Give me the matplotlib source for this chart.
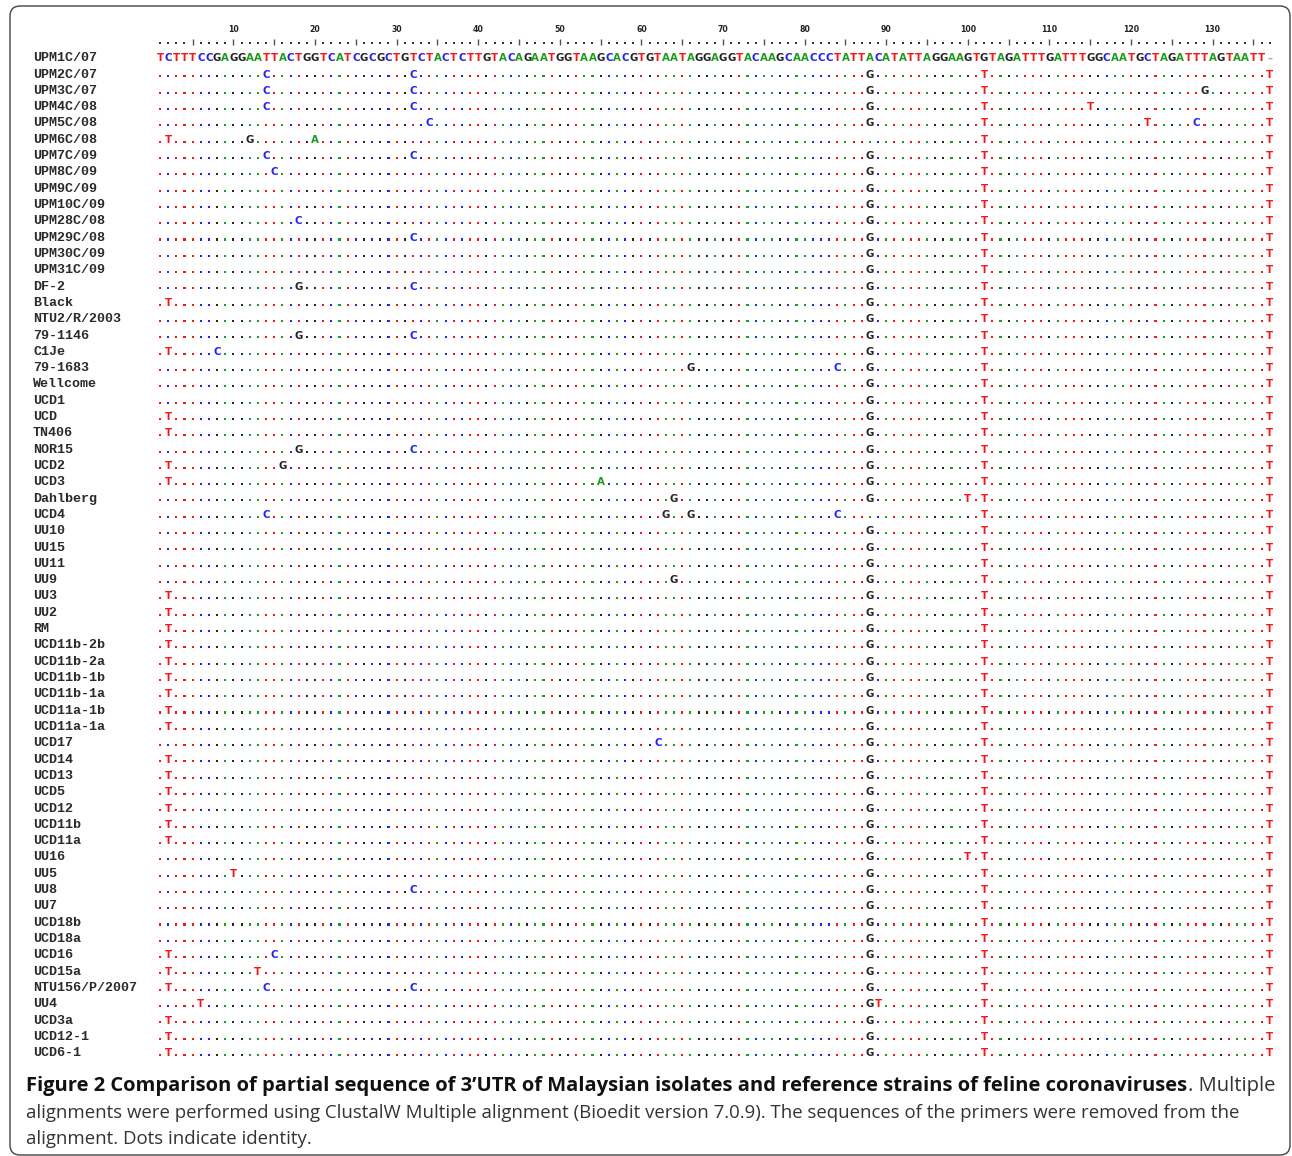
import matplotlib
matplotlib.use("Agg")
import matplotlib.pyplot as plt
from matplotlib.patches import FancyBboxPatch
from matplotlib.transforms import IdentityTransform

# ---------------- data ----------------
reference_seq = ("TCTTTCCGAGGAATTACTGGTCATCGCGCTGTCTACTCTTGTACAGAATGGTAAGCACGTGTAATAGGAG"
                 "GTACAAGCAACCCTATTACATATTAGGAAGTGTAGATTTGATTTGGCAATGCTAGATTTAGTAATT-")

strain_names = [
    "UPM1C/07", "UPM2C/07", "UPM3C/07", "UPM4C/08", "UPM5C/08", "UPM6C/08",
    "UPM7C/09", "UPM8C/09", "UPM9C/09", "UPM10C/09", "UPM28C/08", "UPM29C/08",
    "UPM30C/09", "UPM31C/09", "DF-2", "Black", "NTU2/R/2003", "79-1146", "C1Je",
    "79-1683", "Wellcome", "UCD1", "UCD", "TN406", "NOR15", "UCD2", "UCD3",
    "Dahlberg", "UCD4", "UU10", "UU15", "UU11", "UU9", "UU3", "UU2", "RM",
    "UCD11b-2b", "UCD11b-2a", "UCD11b-1b", "UCD11b-1a", "UCD11a-1b", "UCD11a-1a",
    "UCD17", "UCD14", "UCD13", "UCD5", "UCD12", "UCD11b", "UCD11a", "UU16",
    "UU5", "UU8", "UU7", "UCD18b", "UCD18a", "UCD16", "UCD15a", "NTU156/P/2007",
    "UU4", "UCD3a", "UCD12-1", "UCD6-1",
]

# differences from the reference (position + base); "" = reference row
strain_variants = [
    "",
    "14C 32C 88G 102T 137T",
    "14C 32C 88G 102T 129G 137T",
    "14C 32C 88G 102T 115T 137T",
    "34C 88G 102T 122T 128C 137T",
    "2T 12G 20A 102T 137T",
    "14C 32C 88G 102T 137T",
    "15C 88G 102T 137T",
    "88G 102T 137T",
    "88G 102T 137T",
    "18C 88G 102T 137T",
    "32C 88G 102T 137T",
    "88G 102T 137T",
    "88G 102T 137T",
    "18G 32C 88G 102T 137T",
    "2T 88G 102T 137T",
    "88G 102T 137T",
    "18G 32C 88G 102T 137T",
    "2T 8C 88G 102T 137T",
    "66G 84C 88G 102T 137T",
    "88G 102T 137T",
    "88G 102T 137T",
    "2T 88G 102T 137T",
    "2T 88G 102T 137T",
    "18G 32C 88G 102T 137T",
    "2T 16G 88G 102T 137T",
    "2T 55A 88G 102T 137T",
    "64G 88G 100T 102T 137T",
    "14C 63G 66G 84C 102T 137T",
    "88G 102T 137T",
    "88G 102T 137T",
    "88G 102T 137T",
    "64G 88G 102T 137T",
    "2T 88G 102T 137T",
    "2T 88G 102T 137T",
    "2T 88G 102T 137T",
    "2T 88G 102T 137T",
    "2T 88G 102T 137T",
    "2T 88G 102T 137T",
    "2T 88G 102T 137T",
    "2T 88G 102T 137T",
    "2T 88G 102T 137T",
    "62C 88G 102T 137T",
    "2T 88G 102T 137T",
    "2T 88G 102T 137T",
    "2T 88G 102T 137T",
    "2T 88G 102T 137T",
    "2T 88G 102T 137T",
    "2T 88G 102T 137T",
    "88G 100T 102T 137T",
    "10T 88G 102T 137T",
    "32C 88G 102T 137T",
    "88G 102T 137T",
    "88G 102T 137T",
    "88G 102T 137T",
    "2T 15C 88G 102T 137T",
    "2T 13T 88G 102T 137T",
    "2T 14C 32C 88G 102T 137T",
    "6T 88G 89T 102T 137T",
    "2T 88G 102T 137T",
    "2T 88G 102T 137T",
    "2T 88G 102T 137T",
]

ruler_ticks = list(range(10, 131, 10))

caption_bold = ("Figure 2 Comparison of partial sequence of 3\u2019UTR of Malaysian isolates "
                "and reference strains of feline coronaviruses")
caption_line1_rest = ". Multiple"
caption_line2 = ("alignments were performed using ClustalW Multiple alignment (Bioedit version "
                 "7.0.9). The sequences of the primers were removed from the")
caption_line3 = "alignment. Dots indicate identity."

base_colors = {"A": "#1e9a1e", "C": "#2424f0", "G": "#262626", "T": "#f01818", "-": "#aaaaaa"}

# ---------------- figure ----------------
W, H, DPI = 1292, 1156, 100
fig = plt.figure(figsize=(W / DPI, H / DPI), dpi=DPI)
fig.patch.set_facecolor("white")

X1_PX, STEP = 160.0, 8.16      # pixel of position 1, pixels per column
Y0_PX, ROW = 57.0, 16.31       # pixel of first row, pixels per row
axl, axr, axt, axb = 20, 1285, 12, 1068
ax = fig.add_axes([axl / W, 1 - axb / H, (axr - axl) / W, (axb - axt) / H])
ax.set_xlim(1 + (axl - X1_PX) / STEP, 1 + (axr - X1_PX) / STEP)
ax.set_ylim((axb - Y0_PX) / ROW, (axt - Y0_PX) / ROW)
ax.axis("off")

n_pos = len(reference_seq)
label_x = 1 + (33 - X1_PX) / STEP
SEQ_FS = 7.4
BASE_OFF = 0.26   # baseline offset (rows)
DOT_OFF = 0.19

# ruler
ruler_y = (43 - Y0_PX) / ROW
rx_dots = [p for p in range(1, n_pos + 1) if p % 5 != 0]
ax.scatter(rx_dots, [ruler_y] * len(rx_dots), s=2.0, marker="s", c="#333333",
           linewidths=0, clip_on=False)
rx_ticks = [p for p in range(1, n_pos + 1) if p % 5 == 0]
ax.vlines(rx_ticks, ruler_y - 0.22, ruler_y + 0.12, colors="#555533", linewidth=1.0)
for t in ruler_ticks:
    ax.text(t, (30 - Y0_PX) / ROW, str(t), ha="center", va="center", fontsize=5.6,
            color="#222222", family="DejaVu Sans", fontweight="bold")

# rows
for r, (name, var) in enumerate(zip(strain_names, strain_variants)):
    ax.text(label_x, r + BASE_OFF, name, ha="left", va="baseline", fontsize=9.6,
            family="Liberation Mono", fontweight="bold", color="#2a2a2a")
    if r == 0:
        for p, b in enumerate(reference_seq, start=1):
            ax.text(p, r + BASE_OFF, "\u2013" if b == "-" else b, ha="center",
                    va="baseline", fontsize=SEQ_FS, fontweight="bold",
                    color=base_colors[b], family="DejaVu Sans")
        continue
    diffs = {}
    for tok in var.split():
        diffs[int(tok[:-1])] = tok[-1]
    dx, dy, dc = [], [], []
    for p, b in enumerate(reference_seq, start=1):
        if p in diffs:
            ax.text(p, r + BASE_OFF, diffs[p], ha="center", va="baseline",
                    fontsize=SEQ_FS, fontweight="bold", color=base_colors[diffs[p]],
                    family="DejaVu Sans")
        elif b != "-":
            dx.append(p)
            dy.append(r + DOT_OFF)
            dc.append(base_colors[b])
    ax.scatter(dx, dy, s=2.2, marker="s", c=dc, linewidths=0, clip_on=False)

# ---------------- caption ----------------
renderer = fig.canvas.get_renderer()
CAP_FONT = "Open Sans"
ident = IdentityTransform()

def fit(texts, target):
    w = sum(t.get_window_extent(renderer).width for t in texts)
    return target / w

t2 = fig.text(26, H - 1118, caption_line2, transform=ident, fontsize=12,
              family=CAP_FONT, color="#333333", va="baseline")
k = fit([t2], 1211)
fs = 12 * k
t2.set_fontsize(fs)
t3 = fig.text(26, H - 1144, caption_line3, transform=ident, fontsize=fs,
              family=CAP_FONT, color="#333333", va="baseline")

t1a = fig.text(26, H - 1091, caption_bold, transform=ident, fontsize=fs,
               family=CAP_FONT, fontweight="bold", color="#111111", va="baseline")
t1b = fig.text(0, H - 1091, caption_line1_rest, transform=ident, fontsize=fs,
               family=CAP_FONT, color="#333333", va="baseline")
k1 = fit([t1a, t1b], 1246)
t1a.set_fontsize(fs * k1)
t1b.set_fontsize(fs * k1)
bb = t1a.get_window_extent(renderer)
t1b.set_x(bb.x1 + 1)

# border
border = FancyBboxPatch((10, 1), 1280, H - 7, boxstyle="round,pad=0,rounding_size=10",
                        transform=ident, fill=False, edgecolor="#444444", linewidth=1.0)
fig.add_artist(border)

fig.savefig("out.png", dpi=DPI)
